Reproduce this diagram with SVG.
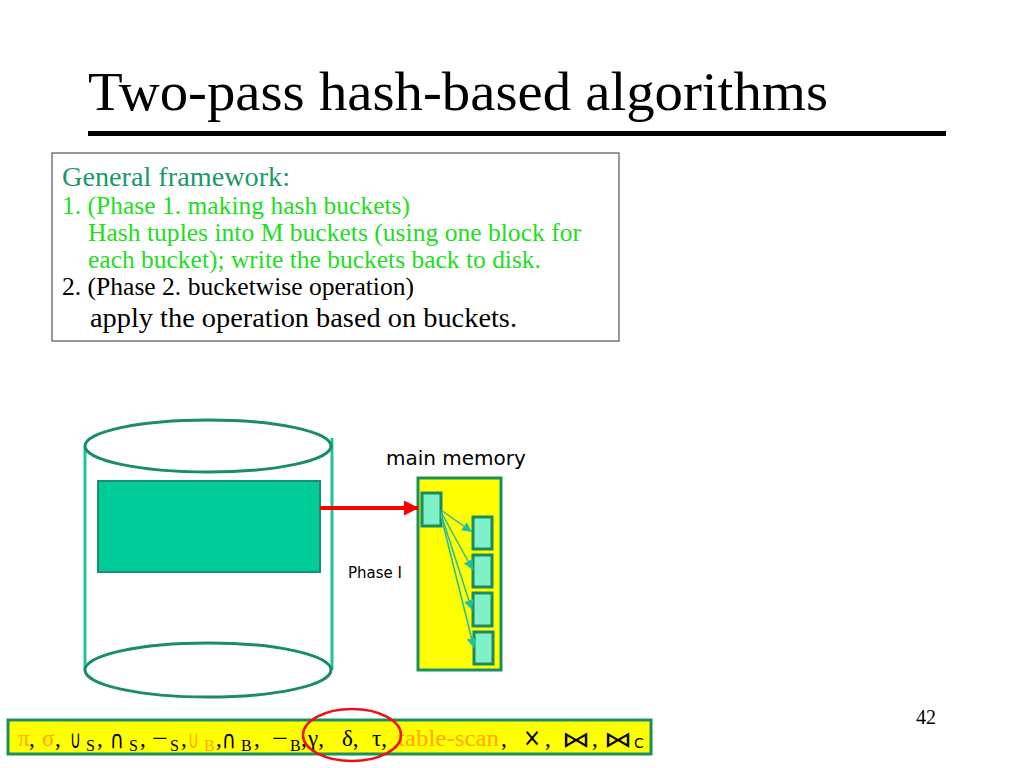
<svg xmlns="http://www.w3.org/2000/svg" width="1024" height="768" viewBox="0 0 1024 768">
<style>
.serif{font-family:"Liberation Serif","Times New Roman",serif}
.sans{font-family:"DejaVu Sans","Liberation Sans",sans-serif}
.g1{fill:#1a9a6a}
.g2{fill:#22dd22}
.blk{fill:#000}
.org{fill:#FFA800}
.cylside{stroke:#22c39a;stroke-width:3;fill:none}
.cylend{stroke:#1a8c68;stroke-width:3;fill:#fff}
.bucket{fill:#80F0C8;stroke:#1a8c60;stroke-width:3}
.teal{stroke:#20c0a0;stroke-width:1.5;fill:none}
.sub{font-size:16px}
.setop{font-size:25px}
</style>
<defs>
<marker id="redhead" markerWidth="15" markerHeight="15" refX="14" refY="7.5" orient="auto" markerUnits="userSpaceOnUse" viewBox="0 0 15 15">
<path d="M0,0 L15,7.5 L0,15 z" fill="#ff0000"/>
</marker>
<marker id="tealhead" markerWidth="10" markerHeight="10" refX="10" refY="5" orient="auto" markerUnits="userSpaceOnUse" viewBox="0 0 10 10">
<path d="M0,0 L10,5 L0,10 z" fill="#20c0a0"/>
</marker>
</defs>
<rect width="1024" height="768" fill="#fff"/>

<g id="title">
<text x="88" y="110" class="serif blk" font-size="55" textLength="740" lengthAdjust="spacingAndGlyphs">Two-pass hash-based algorithms</text>
<rect x="88" y="131" width="858" height="5" fill="#000"/>
</g>

<g id="framework">
<rect x="52" y="153" width="567" height="188" fill="#fff" stroke="#555" stroke-width="1.2"/>
<text x="62" y="186" class="serif g1" font-size="28" textLength="228" lengthAdjust="spacingAndGlyphs">General framework:</text>
<text x="62" y="214" class="serif g2" font-size="25" textLength="348" lengthAdjust="spacingAndGlyphs">1. (Phase 1. making hash buckets)</text>
<text x="88" y="241" class="serif g2" font-size="25" textLength="493" lengthAdjust="spacingAndGlyphs">Hash tuples into M buckets (using one block for</text>
<text x="88" y="268" class="serif g2" font-size="25" textLength="453" lengthAdjust="spacingAndGlyphs">each bucket); write the buckets back to disk.</text>
<text x="62" y="295" class="serif blk" font-size="25" textLength="352" lengthAdjust="spacingAndGlyphs">2. (Phase 2. bucketwise operation)</text>
<text x="90" y="327" class="serif blk" font-size="28" textLength="427" lengthAdjust="spacingAndGlyphs">apply the operation based on buckets.</text>
</g>

<g id="disk">
<line x1="85" y1="446" x2="85" y2="670" class="cylside"/>
<line x1="332" y1="438" x2="332" y2="670" class="cylside"/>
<ellipse cx="208" cy="670" rx="123" ry="27" class="cylend"/>
<ellipse cx="208" cy="446" rx="123" ry="26" class="cylend"/>
<rect x="98" y="481" width="222" height="91" fill="#00CC99" stroke="#1a9070" stroke-width="2"/>
</g>

<g id="memory">
<text x="386" y="465" class="sans blk" font-size="20">main memory</text>
<rect x="418" y="478" width="83" height="192" fill="#ffff00" stroke="#1a9060" stroke-width="3"/>
<rect x="422" y="493" width="19" height="33" class="bucket"/>
<rect x="473" y="517" width="19" height="32" class="bucket"/>
<rect x="473" y="555" width="19" height="32" class="bucket"/>
<rect x="473" y="593" width="19" height="33" class="bucket"/>
<rect x="474" y="632" width="19" height="32" class="bucket"/>
</g>

<g id="phase-label">
<text x="348" y="578" class="sans blk" font-size="15">Phase I</text>
</g>

<g id="connectors">
<line x1="320" y1="508" x2="418" y2="508" stroke="#ff0000" stroke-width="4" marker-end="url(#redhead)"/>
<line x1="441" y1="510" x2="472" y2="532" class="teal" marker-end="url(#tealhead)"/>
<line x1="441" y1="512" x2="473" y2="570" class="teal" marker-end="url(#tealhead)"/>
<line x1="441" y1="514" x2="472" y2="610" class="teal" marker-end="url(#tealhead)"/>
<line x1="441" y1="516" x2="474" y2="648" class="teal" marker-end="url(#tealhead)"/>
</g>

<g id="page-number">
<text x="916" y="724" class="serif blk" font-size="20">42</text>
</g>

<g id="operators">
<rect x="8" y="720" width="643" height="34" fill="#ffff00" stroke="#1a9060" stroke-width="3"/>
<g font-size="23">
<text x="18" y="746" class="serif org">π</text>
<text x="29" y="746" class="serif blk">,</text>
<text x="42" y="746" class="serif org">σ</text>
<text x="55" y="746" class="serif blk">,</text>
<text x="70" y="748" class="sans blk setop" textLength="11" lengthAdjust="spacingAndGlyphs">∪</text>
<text x="86" y="751" class="serif blk sub">S</text>
<text x="97" y="746" class="serif blk">,</text>
<text x="110" y="748" class="sans blk setop" textLength="14" lengthAdjust="spacingAndGlyphs">∩</text>
<text x="129" y="751" class="serif blk sub">S</text>
<text x="140" y="746" class="serif blk">,</text>
<text x="152" y="746" class="serif blk" textLength="16" lengthAdjust="spacingAndGlyphs">−</text>
<text x="170" y="751" class="serif blk sub">S</text>
<text x="181" y="746" class="serif blk">,</text>
<text x="188" y="748" class="sans org setop" textLength="11" lengthAdjust="spacingAndGlyphs">∪</text>
<text x="204" y="751" class="serif org sub">B</text>
<text x="216" y="746" class="serif blk">,</text>
<text x="222" y="748" class="sans blk setop" textLength="14" lengthAdjust="spacingAndGlyphs">∩</text>
<text x="241" y="751" class="serif blk sub">B</text>
<text x="254" y="746" class="serif blk">,</text>
<text x="272" y="746" class="serif blk" textLength="16" lengthAdjust="spacingAndGlyphs">−</text>
<text x="290" y="751" class="serif blk sub">B</text>
<text x="301" y="746" class="serif blk">,</text>
<text x="308" y="746" class="serif blk">γ,</text>
<text x="342" y="746" class="serif blk">δ,</text>
<text x="372" y="746" class="serif blk">τ,</text>
<text x="398" y="746" class="serif org" textLength="101" lengthAdjust="spacingAndGlyphs">table-scan</text>
<text x="501" y="746" class="serif blk">,</text>
<text x="523" y="746" class="sans blk" font-size="24" textLength="18" lengthAdjust="spacingAndGlyphs">×</text>
<text x="545" y="746" class="serif blk">,</text>
<text x="562" y="747" class="sans blk" font-size="22" textLength="28" lengthAdjust="spacingAndGlyphs">⋈</text>
<text x="592" y="746" class="serif blk">,</text>
<text x="604" y="747" class="sans blk" font-size="22" textLength="28" lengthAdjust="spacingAndGlyphs">⋈</text>
<text x="634" y="748" class="sans blk" font-size="14">C</text>
</g>
<ellipse cx="352" cy="735" rx="49" ry="26" fill="none" stroke="#ee1111" stroke-width="2.5"/>
</g>
</svg>
